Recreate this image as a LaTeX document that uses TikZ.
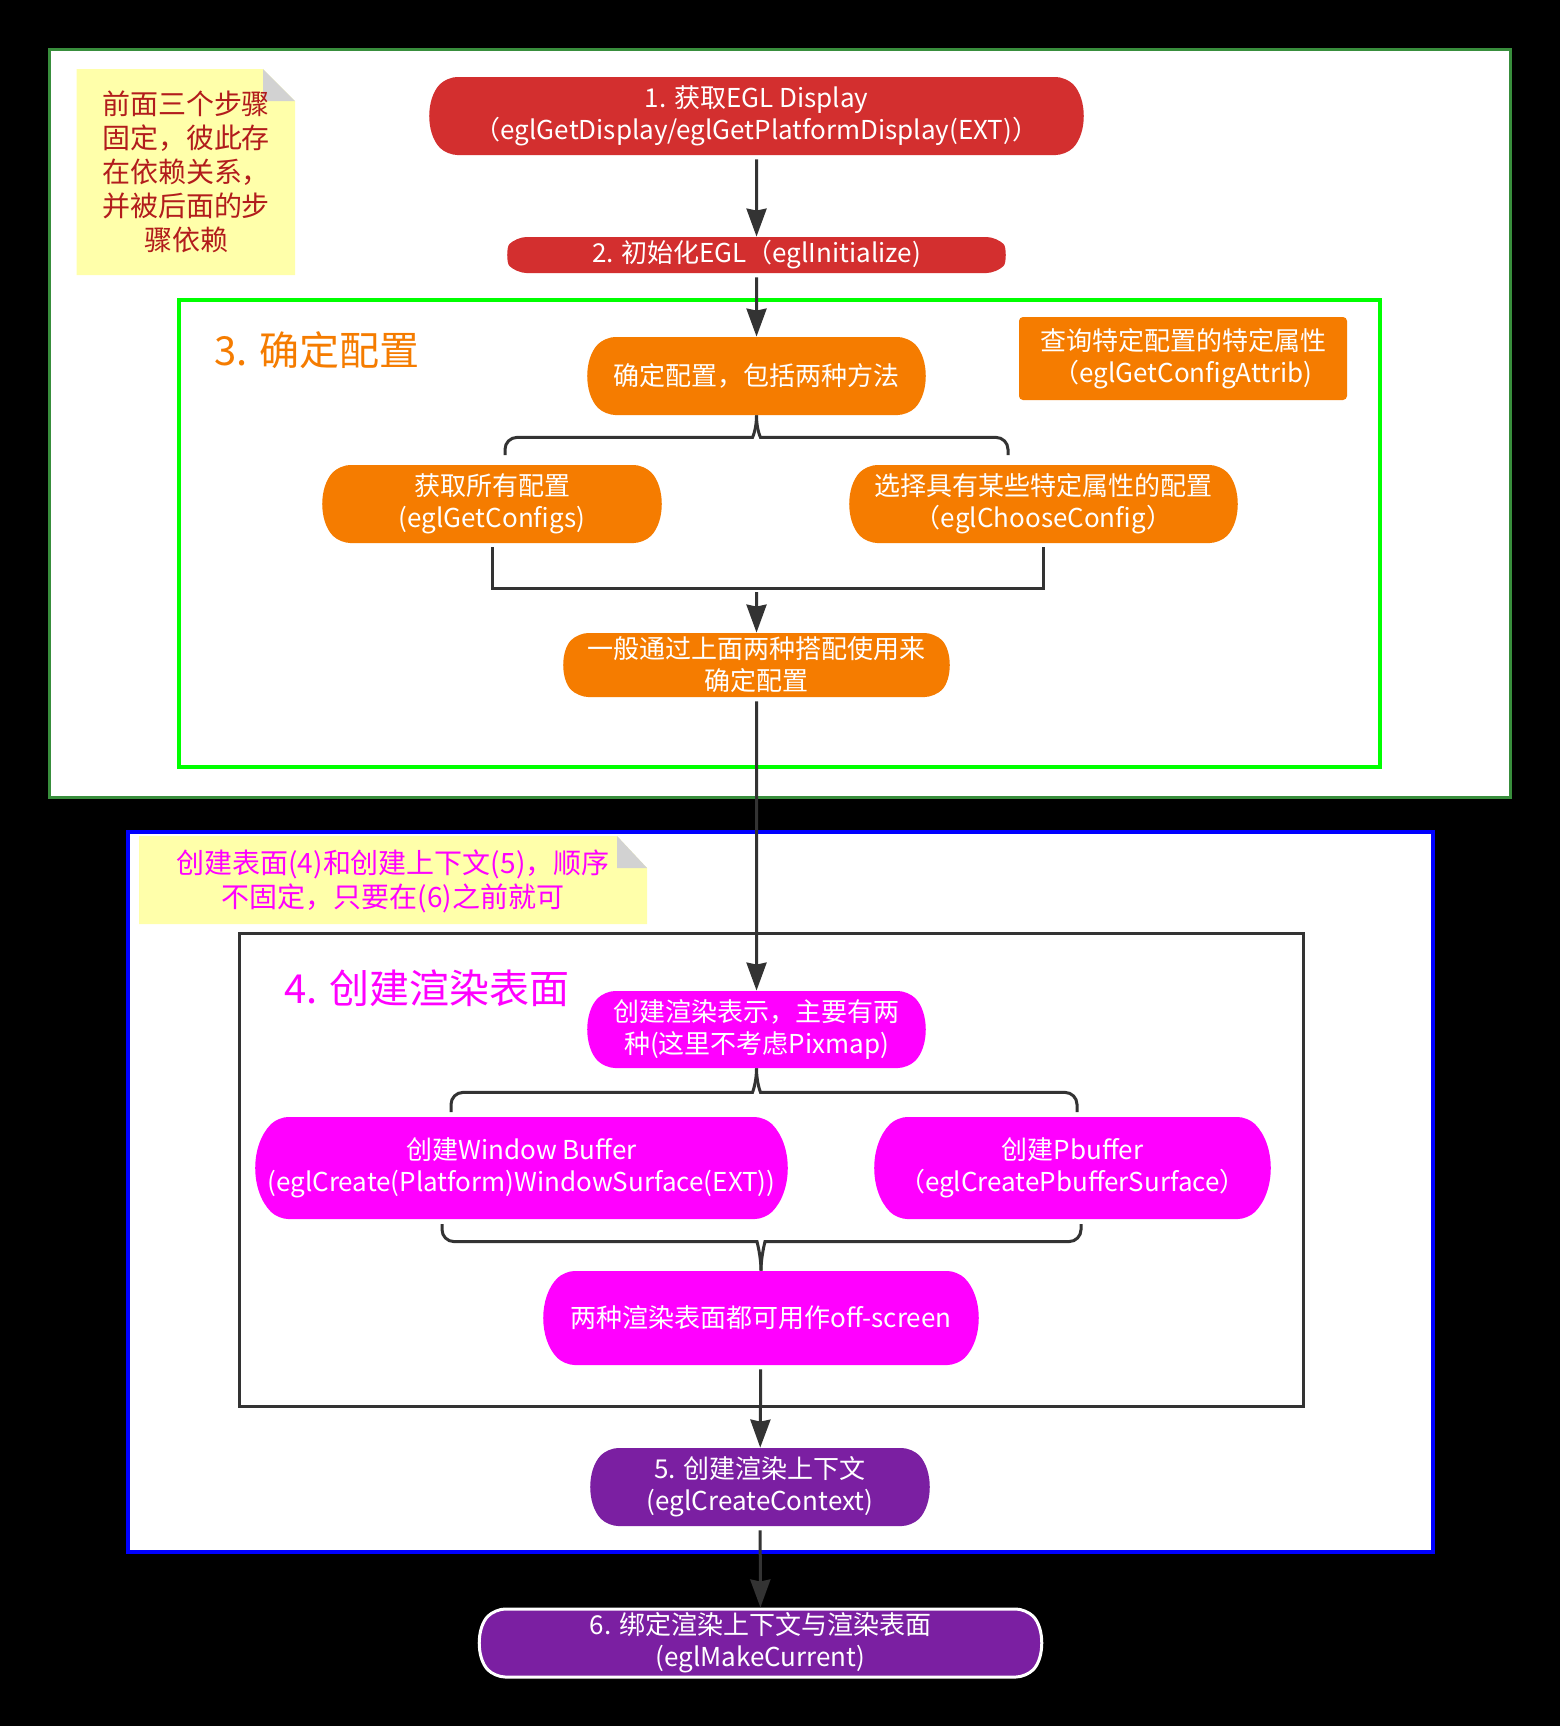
\documentclass[tikz,border=0pt]{standalone}
\usepackage{fontspec}
\setmainfont{Noto Sans CJK SC}
\usetikzlibrary{arrows.meta,shapes.misc,calc}
\definecolor{stepred}{RGB}{211,47,47}
\definecolor{steporange}{RGB}{245,124,0}
\definecolor{stepmagenta}{RGB}{255,0,255}
\definecolor{steppurple}{RGB}{123,31,162}
\definecolor{outergreen}{RGB}{56,142,60}
\definecolor{brightgreen}{RGB}{0,255,0}
\definecolor{framegray}{RGB}{51,51,51}
\definecolor{noteyellow}{RGB}{255,255,170}
\definecolor{foldgray}{RGB}{210,210,210}
\definecolor{notered}{RGB}{178,28,28}
\begin{document}
\begin{tikzpicture}[x=0.5pt,y=-0.5pt,
    box/.style={rounded rectangle, rounded rectangle arc length=90, rounded corners=5pt, inner sep=0pt,
      text=white, align=center, font=\fontsize{13}{16}\selectfont},
    notetext/.style={align=center, font=\fontsize{14}{17}\selectfont},
    title/.style={anchor=west, font=\fontsize{20}{24}\selectfont},
    line/.style={draw=framegray, line width=1.5pt},
    link/.style={line, -{Stealth[length=14pt,width=10pt,inset=1pt]}, shorten <=2pt}]
    \fill[black] (0,0) rectangle (1560,1726);
    \useasboundingbox (0,0) rectangle (1560,1726);

    % upper part: steps 1 to 3
    \draw[outergreen, line width=1.5pt, fill=white] (49.5,49.5) rectangle (1510,797);
    \fill[noteyellow] (76.5,69) -- (263,69) -- (295,101) -- (295,275) -- (76.5,275) -- cycle;
    \fill[foldgray] (263,69) -- (263,101) -- (295,101) -- cycle;
    \node[notetext, text=notered] (fixnote) at (186,172)
        {前面三个步骤\\固定，彼此存\\在依赖关系，\\并被后面的步\\骤依赖};

    \node[box, fill=stepred, minimum width=325.5pt, minimum height=39pt] (disp) at (756.5,116)
        {1. 获取EGL Display\\（eglGetDisplay/eglGetPlatformDisplay(EXT)）};
    \node[box, fill=stepred, minimum width=247.5pt, minimum height=18pt] (init) at (756.5,255)
        {2. 初始化EGL（eglInitialize)};

    \draw[brightgreen, line width=2pt] (179,300) rectangle (1380,767);
    \node[title, text=steporange] (cfgtitle) at (207,350) {3. 确定配置};
    \node[box, fill=steporange, minimum width=167.5pt, minimum height=39pt] (cfg) at (756.5,376)
        {确定配置，包括两种方法};
    \node[rectangle, rounded corners=2pt, fill=steporange, text=white, align=center,
        font=\fontsize{13}{16}\selectfont, minimum width=164pt, minimum height=41.5pt] (attr) at (1183,358.5)
        {查询特定配置的特定属性\\（eglGetConfigAttrib)};
    \node[box, fill=steporange, minimum width=168pt, minimum height=39pt] (getc) at (492,504)
        {获取所有配置\\(eglGetConfigs)};
    \node[box, fill=steporange, minimum width=192.5pt, minimum height=39pt] (choose) at (1043.5,504)
        {选择具有某些特定属性的配置\\（eglChooseConfig）};
    \node[box, fill=steporange, minimum width=191.5pt, minimum height=32pt] (usual) at (756.5,665)
        {一般通过上面两种搭配使用来\\确定配置};

    % lower part: steps 4 and 5
    \draw[blue, line width=2pt, fill=white] (127.5,832) rectangle (1433,1552);
    \fill[noteyellow] (139,836) -- (617,836) -- (647,868) -- (647,924) -- (139,924) -- cycle;
    \fill[foldgray] (617,836) -- (617,868) -- (647,868) -- cycle;
    \node[notetext, text=stepmagenta] (ordernote) at (393,881)
        {创建表面(4)和创建上下文(5)，顺序\\不固定，只要在(6)之前就可};

    \draw[framegray, line width=1.5pt] (239.5,933) rectangle (1303,1406);
    \node[title, text=stepmagenta] (srftitle) at (277,988) {4. 创建渲染表面};
    \node[box, fill=stepmagenta, minimum width=167.5pt, minimum height=38.5pt] (srf) at (756.5,1029.5)
        {创建渲染表示，主要有两\\种(这里不考虑Pixmap)};
    \node[box, fill=stepmagenta, minimum width=264.5pt, minimum height=51pt] (win) at (521.5,1168)
        {创建Window Buffer\\(eglCreate(Platform)WindowSurface(EXT))};
    \node[box, fill=stepmagenta, minimum width=196.5pt, minimum height=51pt] (pbuf) at (1072.5,1168)
        {创建Pbuffer\\（eglCreatePbufferSurface）};
    \node[box, fill=stepmagenta, minimum width=216pt, minimum height=47pt] (offs) at (761,1318)
        {两种渲染表面都可用作off-screen};

    \node[box, fill=steppurple, minimum width=168pt, minimum height=39pt] (ctx) at (760,1487)
        {5. 创建渲染上下文\\(eglCreateContext)};
    \node[box, fill=steppurple, draw=white, line width=1.5pt, minimum width=279.5pt, minimum height=34pt] (cur) at (760.5,1643)
        {6. 绑定渲染上下文与渲染表面\\(eglMakeCurrent)};

    % connectors
    \coordinate (cfgL) at (505,455);
    \coordinate (cfgR) at (1008,455);
    \coordinate (join) at (756.5,588);
    \coordinate (srfL) at (451,1112);
    \coordinate (srfR) at (1077,1112);
    \coordinate (offL) at (442,1224);
    \coordinate (offR) at (1081,1224);

    \draw[link] (disp) -- (init);
    \draw[link] (init) -- (cfg);
    \draw[line] (cfgL) [rounded corners=6pt] |- ($(cfg.south)+(-16,22)$) [sharp corners] .. controls +(12,0) and +(0,14) .. (cfg.south);
    \draw[line] (cfgR) [rounded corners=6pt] |- ($(cfg.south)+(16,22)$) [sharp corners] .. controls +(-12,0) and +(0,14) .. (cfg.south);
    \draw[line] ([yshift=-2pt]getc.south) |- (join) -| ([yshift=-2pt]choose.south);
    \draw[link] (join) -- (usual);
    \draw[link] (usual) -- (srf);
    \draw[line] (srfL) [rounded corners=6pt] |- ($(srf.south)+(-16,24)$) [sharp corners] .. controls +(12,0) and +(0,14) .. (srf.south);
    \draw[line] (srfR) [rounded corners=6pt] |- ($(srf.south)+(16,24)$) [sharp corners] .. controls +(-12,0) and +(0,14) .. (srf.south);
    \draw[line] (offL) [rounded corners=6pt] |- ($(offs.north)+(-16,-29)$) [sharp corners] .. controls +(12,0) and +(0,-14) .. (offs.north);
    \draw[line] (offR) [rounded corners=6pt] |- ($(offs.north)+(16,-29)$) [sharp corners] .. controls +(-12,0) and +(0,-14) .. (offs.north);
    \draw[link] (offs) -- (ctx);
    \draw[link] (ctx) -- (cur);
\end{tikzpicture}
\end{document}
